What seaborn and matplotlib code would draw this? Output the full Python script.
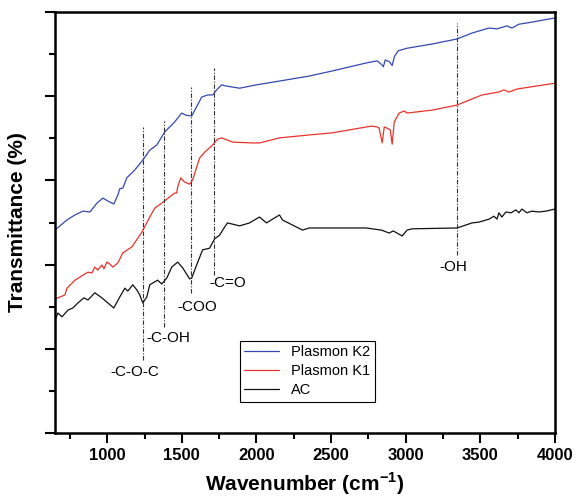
import pandas as pd
import numpy as np
import matplotlib
matplotlib.use("Agg")
import matplotlib.pyplot as plt
import seaborn as sns

# FTIR spectra (transmittance in arbitrary %)
k2_wn = [650, 730, 784, 837, 884, 931, 971, 1004, 1044, 1071, 1084, 1105, 1131, 1185,
         1238, 1285, 1332, 1385, 1452, 1499, 1526, 1566, 1633, 1673, 1706, 1733, 1766,
         1800, 1887, 2000, 2154, 2354, 2508, 2735, 2809, 2836, 2850, 2862, 2890, 2909,
         2925, 2950, 3009, 3177, 3344, 3444, 3558, 3611, 3678, 3711, 3758, 3845, 4000]
k2_t = [48.2, 50.6, 51.8, 52.7, 52.5, 54.6, 55.8, 55.1, 54.4, 56.5, 58.0, 58.2, 60.6, 62.5,
        64.8, 67.2, 68.4, 71.5, 73.9, 76.0, 75.5, 75.3, 79.8, 80.3, 80.3, 81.5, 82.7,
        82.4, 81.9, 82.7, 83.6, 84.8, 86.0, 87.9, 88.4, 87.6, 87.0, 88.6, 88.2, 87.3,
        89.5, 90.8, 91.4, 92.4, 93.6, 95.0, 96.2, 96.0, 96.7, 96.2, 97.1, 97.6, 98.6]

k1_wn = [650, 683, 717, 730, 784, 837, 871, 897, 917, 937, 964, 978, 998, 1018, 1038,
         1071, 1105, 1165, 1232, 1285, 1318, 1365, 1419, 1452, 1465, 1472, 1492, 1519,
         1552, 1572, 1619, 1653, 1706, 1739, 1766, 1840, 1973, 2020, 2154, 2354, 2508,
         2769, 2809, 2822, 2842, 2856, 2876, 2896, 2909, 2923, 2956, 2989, 3009, 3177,
         3344, 3511, 3624, 3658, 3691, 3745, 4000]
k1_t = [31.8, 32.3, 32.8, 34.4, 36.3, 37.5, 38.2, 38.0, 39.4, 38.7, 39.9, 39.0, 40.6, 40.1, 39.4,
        40.4, 42.8, 44.2, 47.7, 51.3, 53.4, 54.6, 56.1, 57.0, 57.0, 58.4, 60.6, 59.6,
        59.1, 60.1, 65.3, 66.7, 68.4, 69.8, 70.1, 69.1, 68.9, 68.9, 70.1, 70.8, 71.3,
        72.9, 72.7, 72.4, 68.9, 72.7, 72.4, 72.0, 68.6, 73.9, 76.0, 76.5, 76.0, 76.7,
        77.9, 80.3, 81.0, 81.5, 81.0, 81.7, 83.1]

ac_wn = [650, 670, 697, 737, 770, 804, 844, 871, 917, 964, 1004, 1044, 1084, 1118, 1138,
         1171, 1198, 1218, 1238, 1265, 1285, 1318, 1338, 1365, 1399, 1432, 1472, 1506,
         1552, 1566, 1599, 1639, 1686, 1719, 1753, 1786, 1806, 1887, 1953, 2020, 2067,
         2154, 2174, 2308, 2354, 2508, 2735, 2836, 2889, 2916, 2976, 3009, 3043, 3344,
         3444, 3491, 3558, 3591, 3611, 3624, 3644, 3671, 3705, 3738, 3758, 3778, 3812,
         3845, 3892, 3939, 4000]
ac_t = [26.8, 28.5, 27.6, 29.2, 29.7, 30.9, 32.1, 31.6, 33.3, 32.1, 30.9, 29.7, 32.3, 34.4, 33.7,
        35.2, 34.0, 32.8, 30.9, 32.3, 35.2, 35.9, 36.3, 35.4, 36.8, 39.4, 40.6, 39.2,
        36.6, 36.8, 39.9, 43.5, 43.9, 46.1, 47.0, 48.9, 49.9, 49.2, 49.9, 51.3, 49.9,
        51.8, 50.6, 48.2, 48.7, 48.7, 48.7, 48.2, 47.5, 48.0, 46.8, 48.2, 48.5, 48.7,
        49.9, 50.1, 50.8, 51.5, 50.8, 52.3, 51.3, 52.5, 52.3, 53.0, 52.3, 53.2, 52.3,
        52.7, 52.5, 52.7, 53.2]

# band assignments: label, wavenumber, line top, line bottom, label x, label y
bands = ["-C-O-C", "-C-OH", "-COO", "-C=O", "-OH"]
band_wn = [1238, 1380, 1560, 1715, 3345]
band_top = [72.7, 74.1, 82.2, 86.7, 97.4]
band_bottom = [17.3, 25.2, 33.3, 37.5, 42.3]
label_x = [1185, 1412, 1606, 1806, 3317]
label_y = [14.5, 22.6, 29.9, 35.6, 39.4]

df = pd.concat([
    pd.DataFrame({"wn": k2_wn, "T": k2_t, "sample": "Plasmon K2"}),
    pd.DataFrame({"wn": k1_wn, "T": k1_t, "sample": "Plasmon K1"}),
    pd.DataFrame({"wn": ac_wn, "T": ac_t, "sample": "AC"}),
])

sns.set_style("ticks")
plt.rcParams["font.family"] = ["Liberation Sans", "DejaVu Sans"]
plt.rcParams["mathtext.fontset"] = "custom"
plt.rcParams["mathtext.rm"] = "Liberation Sans"
plt.rcParams["mathtext.bf"] = "Liberation Sans:bold"
plt.rcParams["text.color"] = "black"
plt.rcParams["axes.labelcolor"] = "black"
plt.rcParams["xtick.color"] = "black"
plt.rcParams["ytick.color"] = "black"
plt.rcParams["axes.edgecolor"] = "black"

fig = plt.figure(figsize=(5.77, 5.03), dpi=100)
ax = fig.add_axes([0.0953, 0.1392, 0.8666, 0.8369])

sns.lineplot(data=df, x="wn", y="T", hue="sample", estimator=None,
             hue_order=["Plasmon K2", "Plasmon K1", "AC"],
             palette=["#3348b0", "#e8332b", "#111111"], linewidth=0.9, ax=ax)

for lab, w, top, bot, lx, ly in zip(bands, band_wn, band_top, band_bottom, label_x, label_y):
    ax.plot([w, w], [bot, top], color="#333333", lw=0.8, ls=(0, (4, 1.5, 1, 1.5)))
    ax.text(lx, ly, lab, ha="center", va="center", fontsize=11)

ax.set_xlim(650, 4000)
ax.set_ylim(0, 100)
ax.set_xticks(np.arange(1000, 4001, 500))
ax.set_xticks(np.arange(750, 4001, 250), minor=True)
ax.set_yticks(np.arange(0, 101, 20))
ax.set_yticks(np.arange(10, 100, 20), minor=True)
ax.set_yticklabels([])
ax.tick_params(which="major", length=7, width=1.5, direction="out")
ax.tick_params(which="minor", length=4, width=1.5, direction="out")
for lbl in ax.get_xticklabels():
    lbl.set_fontweight("bold")
    lbl.set_fontsize(12)
for s in ax.spines.values():
    s.set_linewidth(1.8)
    s.set_visible(True)

ax.set_xlabel("Wavenumber (cm$^{\\mathbf{-1}}$)", fontsize=15, fontweight="bold", labelpad=6)
ax.set_ylabel("Transmittance (%)", fontsize=15, fontweight="bold", labelpad=10)

leg = ax.legend(loc="lower left", bbox_to_anchor=(0.37, 0.074), borderaxespad=0,
                fontsize=10.5, handlelength=2.4, frameon=True, fancybox=False,
                edgecolor="black", framealpha=1, borderpad=0.3, labelspacing=0.35)
leg.get_frame().set_linewidth(0.8)

fig.savefig("out.png", dpi=100)
